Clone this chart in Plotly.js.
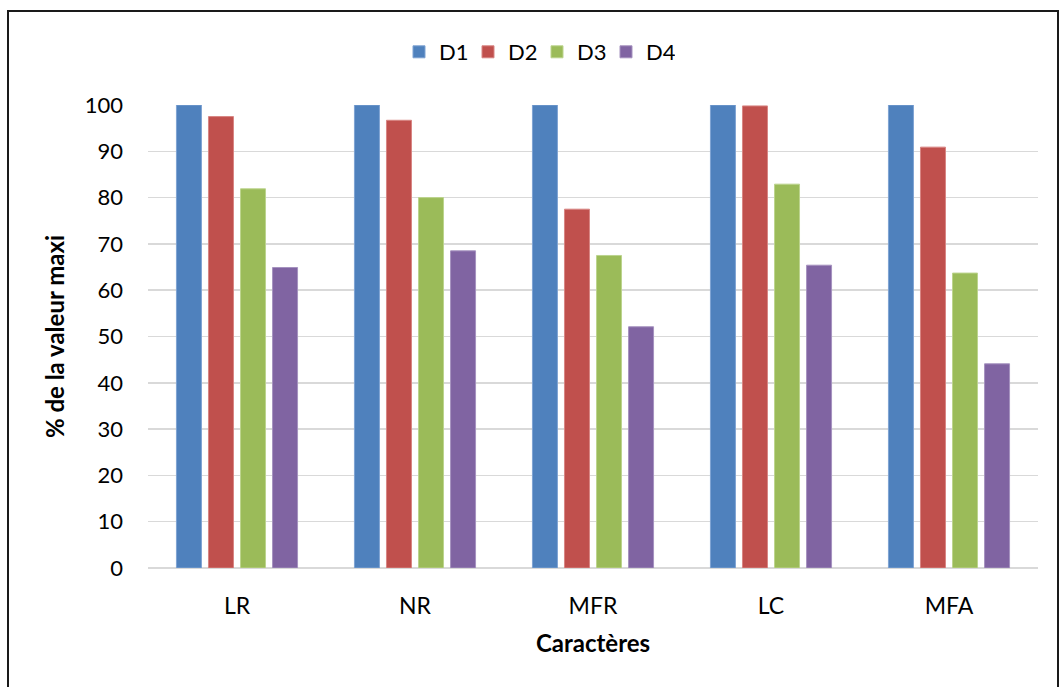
<!DOCTYPE html>
<html>
<head>
<meta charset="utf-8">
<script src="https://cdn.plot.ly/plotly-3.0.1.min.js"></script>
<style>
  html, body { margin: 0; padding: 0; background: #ffffff; }
  #chart { width: 1059px; height: 687px; }
</style>
</head>
<body>
<div id="chart"></div>
<script>
// Characters measured, expressed as % of the maximum value
const categories = ['LR', 'NR', 'MFR', 'LC', 'MFA'];
const seriesNames = ['D1', 'D2', 'D3', 'D4'];
const d1 = [100, 100, 100, 100, 100];
const d2 = [97.5, 96.7, 77.5, 99.8, 90.9];
const d3 = [81.9, 80.0, 67.5, 82.9, 63.7];
const d4 = [64.9, 68.5, 52.1, 65.4, 44.1];
const yTicks = [0, 10, 20, 30, 40, 50, 60, 70, 80, 90, 100];

const colors = ['#4F81BD', '#C0504D', '#9BBB59', '#8064A2'];
const edge = ['#7FA3D3', '#D88583', '#BCD48E', '#A592BF'];
const values = [d1, d2, d3, d4];

const FONT = 'Lato, Carlito, "Liberation Sans", sans-serif';

const traces = values.map((v, i) => ({
  type: 'bar',
  name: seriesNames[i],
  x: categories,
  y: v,
  marker: { color: colors[i], line: { color: edge[i], width: 1 } },
  hoverinfo: 'x+y+name'
}));

// Plot area: x 148..1038, y 105..568
const L = 148, R = 1038, T = 105, B = 568;
const W = 1059, H = 687;
const px = (x) => (x - L) / (R - L);
const py = (y) => (B - y) / (B - T);

const layout = {
  width: W,
  height: H,
  margin: { l: L, r: W - R, t: T, b: H - B, pad: 0 },
  paper_bgcolor: '#ffffff',
  plot_bgcolor: '#ffffff',
  font: { family: FONT, size: 22, color: '#000000' },
  barmode: 'group',
  bargap: 0.28,
  bargroupgap: 0.22,
  showlegend: true,
  legend: {
    orientation: 'h',
    x: px(537), xanchor: 'center',
    y: py(52), yanchor: 'middle',
    font: { family: FONT, size: 22, color: '#000000' },
    itemwidth: 30,
    entrywidth: 24,
    entrywidthmode: 'pixels',
    tracegroupgap: 0,
    bgcolor: 'rgba(0,0,0,0)'
  },
  xaxis: {
    type: 'category',
    showgrid: false,
    showline: false,
    zeroline: false,
    ticks: '',
    ticklabelstandoff: 22,
    tickfont: { family: FONT, size: 23, color: '#000000' },
    title: {
      text: '<b>Caractères</b>',
      font: { family: FONT, size: 24, color: '#000000' },
      standoff: 17
    },
    fixedrange: true
  },
  yaxis: {
    range: [0, 100],
    tickvals: yTicks,
    ticktext: yTicks.map(String),
    showgrid: true,
    gridcolor: '#D9D9D9',
    gridwidth: 1.5,
    zeroline: true,
    zerolinecolor: '#D9D9D9',
    zerolinewidth: 1.5,
    showline: false,
    ticks: '',
    ticklabelstandoff: 24,
    tickfont: { family: FONT, size: 22, color: '#000000' },
    title: {
      text: '<b>% de la valeur maxi</b>',
      font: { family: FONT, size: 24, color: '#000000' },
      standoff: 13
    },
    fixedrange: true
  },
  shapes: [
    {
      type: 'path',
      xref: 'paper', yref: 'paper',
      path: 'M ' + px(8) + ',' + py(720) + ' L ' + px(8) + ',' + py(11) +
            ' L ' + px(1058) + ',' + py(11) + ' L ' + px(1058) + ',' + py(720),
      line: { color: '#1a1a1a', width: 2 },
      layer: 'above'
    }
  ]
};

Plotly.newPlot('chart', traces, layout, { displayModeBar: false, staticPlot: true });
</script>
</body>
</html>
